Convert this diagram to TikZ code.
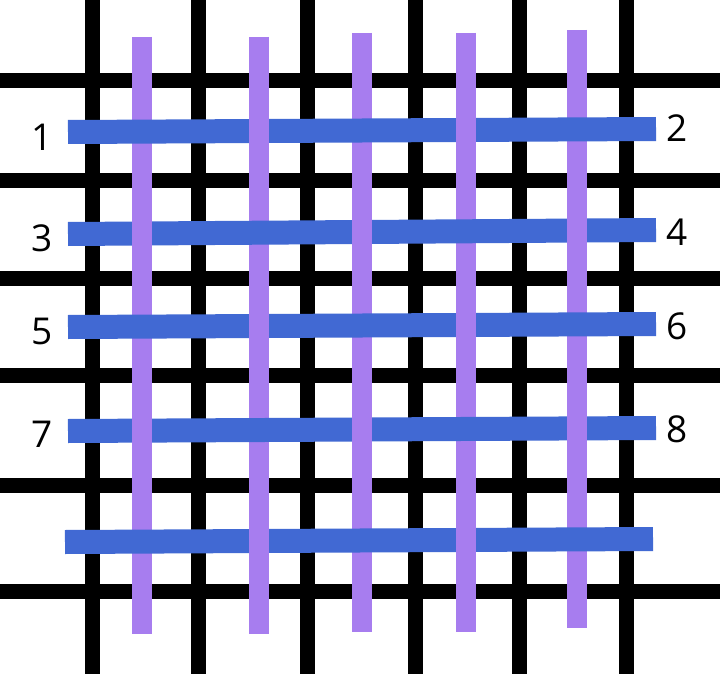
\documentclass[tikz,border=0pt]{standalone}
\usepackage{fontspec}
\setmainfont{Open Sans}
\definecolor{purp}{RGB}{167,125,239}
\definecolor{blu}{RGB}{65,105,211}
\begin{document}
\begin{tikzpicture}[x=1pt,y=-1pt,
  gridline/.style={line width=15pt,black},
  weft/.style={line width=20pt,color=purp},
  warp/.style={line width=24pt,color=blu},
  lbl/.style={font=\fontsize{37}{40}\selectfont,inner sep=0pt}]
\useasboundingbox (0,0) rectangle (720,674);
\fill[white] (0,0) rectangle (720,674);
% black canvas grid
\foreach \x in {92,198,307,415,519,626} \draw[gridline] (\x,0) -- (\x,674);
\foreach \y in {81,180,278,375,485,591} \draw[gridline] (0,\y) -- (720,\y);
% purple vertical bars
\foreach \x/\t/\b in {142/37/634, 259/37/634, 362/33/632, 466/33/632, 577/30/628}
  \draw[weft] (\x,\t) -- (\x,\b);
% blue horizontal bars woven through the purple ones
\foreach \a/\b/\xl/\xr [count=\i] in {132/129/68/656, 234/230/68/656, 327/324/68/656, 431/428/68/656, 542/539/65/653}{
  \draw[warp] (\xl,\a) -- (\xr,\b);
  \foreach \x [count=\j] in {142,259,362,466,577}{
    \pgfmathparse{int(mod(\i+\j,2))}
    \ifnum\pgfmathresult=1
      \pgfmathsetmacro\yy{\a+(\b-\a)*(\x-\xl)/(\xr-\xl)}
      \draw[weft] (\x,\yy-13) -- (\x,\yy+13);
    \fi
  }
}
% labels
\node[lbl] (n1) at (42,137) {1};
\node[lbl] (n3) at (42,238) {3};
\node[lbl] (n5) at (42,331) {5};
\node[lbl] (n7) at (42,434) {7};
\node[lbl] (n2) at (677,128) {2};
\node[lbl] (n4) at (677,232) {4};
\node[lbl] (n6) at (677,326) {6};
\node[lbl] (n8) at (677,429) {8};
\end{tikzpicture}
\end{document}
